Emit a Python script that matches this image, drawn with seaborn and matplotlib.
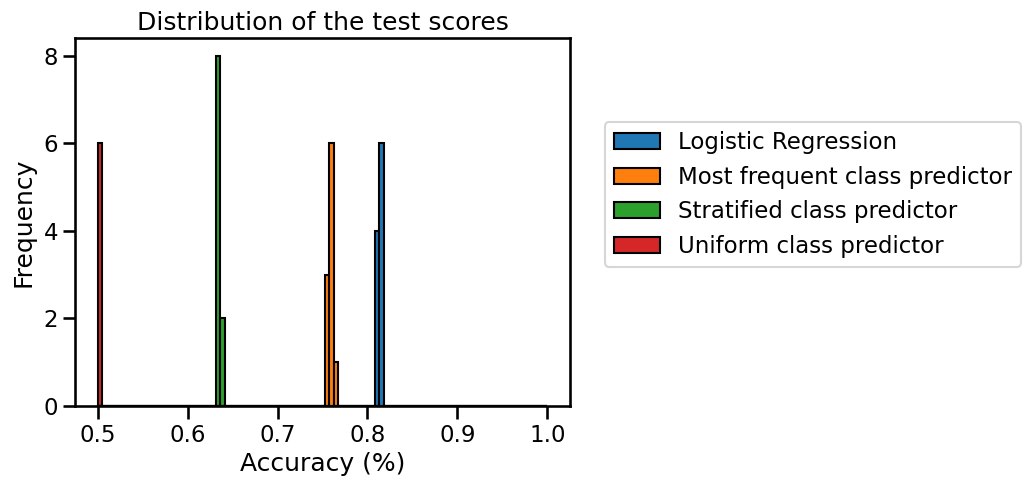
import numpy as np
import pandas as pd
import matplotlib
matplotlib.use("Agg")
import matplotlib.pyplot as plt
import seaborn as sns

# test scores for each model (10 CV splits each)
logistic_scores = [0.8106, 0.8106, 0.8106, 0.8106,
                   0.8157, 0.8157, 0.8157, 0.8157, 0.8157, 0.8157]
most_frequent_scores = [0.7551, 0.7551, 0.7551,
                        0.7601, 0.7601, 0.7601, 0.7601, 0.7601, 0.7601,
                        0.7652]
stratified_scores = [0.6338, 0.6338, 0.6338, 0.6338, 0.6338, 0.6338, 0.6338, 0.6338,
                     0.6389, 0.6389]
uniform_scores = [0.5025, 0.5025, 0.5025, 0.5025, 0.5025, 0.5025,
                  0.4921, 0.4870, 0.4947, 0.4896]  # last four fall below 0.5, outside the bins

model_names = ["Logistic Regression", "Most frequent class predictor",
               "Stratified class predictor", "Uniform class predictor"]

all_scores = pd.DataFrame({
    "score": logistic_scores + most_frequent_scores + stratified_scores + uniform_scores,
    "model": sum([[name] * 10 for name in model_names], []),
})

bins = np.linspace(start=0.5, stop=1.0, num=100)

sns.set_context("talk")

fig, ax = plt.subplots(figsize=(10.32, 4.87), dpi=100)
palette = dict(zip(model_names, sns.color_palette("tab10", 4)))

sns.histplot(
    data=all_scores,
    x="score",
    hue="model",
    hue_order=model_names,
    bins=bins,
    multiple="layer",
    palette=palette,
    alpha=1,
    edgecolor="black",
    linewidth=1.5,
    ax=ax,
)

ax.set_title("Distribution of the test scores")
ax.set_xlabel("Accuracy (%)")
ax.set_ylabel("Frequency", labelpad=6)
ax.set_yticks([0, 2, 4, 6, 8])

sns.move_legend(ax, "center left", bbox_to_anchor=(1.048, 0.575), title=None, frameon=True)
for handle in ax.get_legend().legend_handles:
    handle.set_edgecolor("black")
    handle.set_alpha(1)

fig.subplots_adjust(left=0.073, right=0.552, top=0.922, bottom=0.166)
fig.savefig("out.png", dpi=100)
